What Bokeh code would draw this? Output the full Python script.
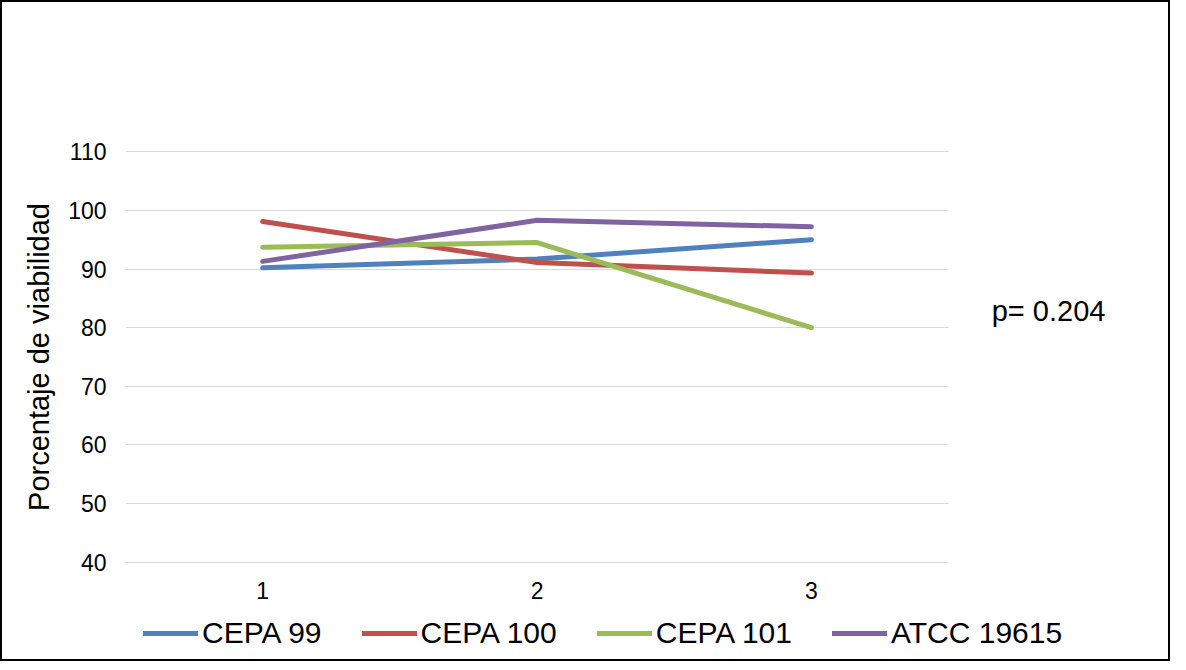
from bokeh.plotting import figure
from bokeh.layouts import column
from bokeh.models import Range1d, Legend, LegendItem, FixedTicker, Label
from bokeh.embed import file_html
from bokeh.resources import INLINE

categories = [1, 2, 3]
cepa99 = [90.2, 91.7, 95.0]
cepa100 = [98.1, 91.1, 89.3]
cepa101 = [93.7, 94.5, 80.0]
atcc = [91.3, 98.3, 97.2]
series_names = ["CEPA 99", "CEPA 100", "CEPA 101", "ATCC 19615"]
colors = ["#4F81BD", "#C0504D", "#9BBB59", "#8064A2"]
y_ticks = [40, 50, 60, 70, 80, 90, 100, 110]
p_text = "p= 0.204"

FONT = "Liberation Sans"

# layout (pixels)
BORDER = 2
LEFT, TOP, BOTTOM = 123, 148, 44
FRAME_W, FRAME_H = 1043, 411
PLOT_W = 820                      # width of the gridded plot area inside the frame
LEGEND_H = 56
x_start = 0.5
x_end = x_start + len(categories) * FRAME_W / PLOT_W
y_start, y_end = 39.8, 110.2

p = figure(frame_width=FRAME_W, frame_height=FRAME_H, x_range=Range1d(x_start, x_end),
           y_range=Range1d(y_start, y_end), output_backend="svg", toolbar_location=None,
           min_border_left=LEFT, min_border_right=0, min_border_top=TOP, min_border_bottom=BOTTOM)
p.styles = {"border": f"{BORDER}px solid black", "border-bottom": "none"}
p.outline_line_color = None
p.background_fill_color = "white"
p.border_fill_color = "white"

p.xaxis.ticker = FixedTicker(ticks=categories)
p.yaxis.ticker = FixedTicker(ticks=y_ticks)
p.xgrid.grid_line_color = None
p.ygrid.grid_line_color = "#D9D9D9"
p.ygrid.grid_line_width = 1
p.ygrid.cross_bounds = (x_start, x_start + len(categories))

for ax in (p.xaxis[0], p.yaxis[0]):
    ax.axis_line_color = None
    ax.major_tick_line_color = None
    ax.minor_tick_line_color = None
    ax.major_tick_out = 0
    ax.minor_tick_out = 0
    ax.major_label_text_font = FONT
    ax.major_label_text_color = "black"
    ax.major_label_text_font_size = "23px"

p.yaxis.major_label_standoff = 19
p.xaxis.major_label_standoff = 18
p.yaxis.axis_label = "Porcentaje de viabilidad"
p.yaxis.axis_label_text_font = FONT
p.yaxis.axis_label_text_font_style = "normal"
p.yaxis.axis_label_text_font_size = "29px"
p.yaxis.axis_label_text_color = "black"
p.yaxis.axis_label_standoff = 10

series = [cepa99, cepa100, cepa101, atcc]
for name, vals, col in zip(series_names, series, colors):
    p.line(categories, vals, line_color=col, line_width=5, line_cap="round", line_join="round")

# p-value annotation (data coordinates, right of the plotted area)
lbl = Label(x=3.657, y=82.8, text=p_text,
            text_font=FONT, text_font_size="29px", text_color="black",
            text_baseline="alphabetic")
p.add_layout(lbl)

# legend strip below the chart (its own hidden renderers only feed the legend glyphs)
p2 = figure(width=LEFT + FRAME_W + 2 * BORDER, height=LEGEND_H, x_range=Range1d(-1, 0),
            y_range=Range1d(-1, 0), output_backend="svg", toolbar_location=None,
            x_axis_type=None, y_axis_type=None, min_border=0)
p2.styles = {"border": f"{BORDER}px solid black", "border-top": "none"}
p2.outline_line_color = None
p2.xgrid.visible = False
p2.ygrid.visible = False
p2.background_fill_color = "white"
p2.border_fill_color = "white"

items = []
for name, vals, col in zip(series_names, series, colors):
    r = p2.line(categories, vals, line_color=col, line_width=5, line_cap="round")
    items.append(LegendItem(label=name, renderers=[r]))

legend = Legend(items=items, orientation="horizontal", location=(18, 10),
                glyph_width=55, glyph_height=36, label_height=36, label_standoff=4, spacing=40,
                padding=0, margin=0, border_line_color=None, background_fill_alpha=0,
                label_text_font=FONT, label_text_font_size="30px", label_text_color="black")
p2.add_layout(legend, "center")

layout = column(p, p2, spacing=0)
open("out.html", "w").write(file_html(layout, INLINE))
